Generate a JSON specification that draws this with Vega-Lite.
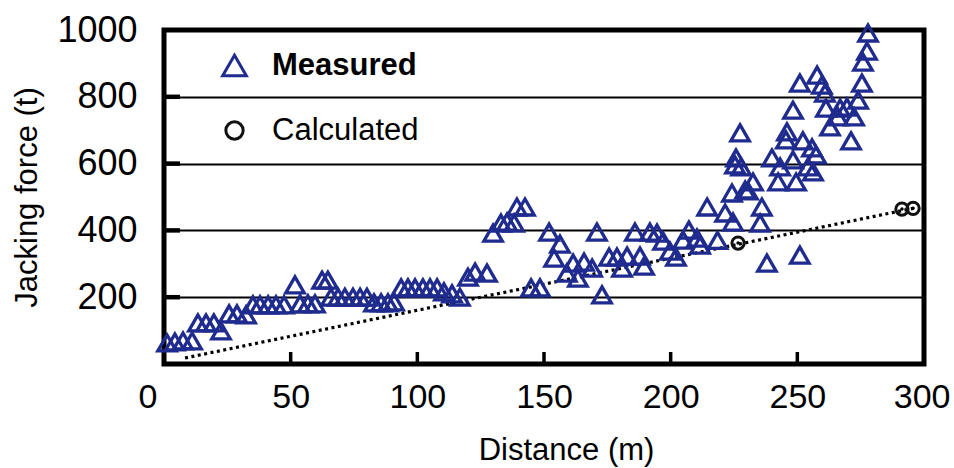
{
  "$schema": "https://vega.github.io/schema/vega-lite/v6.json",
  "width": 760,
  "height": 334,
  "autosize": {"type": "none"},
  "padding": {"left": 164, "top": 30, "right": 30, "bottom": 104},
  "background": "white",
  "config": {
    "view": {"stroke": "black", "strokeWidth": 5},
    "font": "Liberation Sans"
  },
  "datasets": {
    "measured": [
      {"d": 1.2, "f": 63, "s": "Measured"}, {"d": 4.3, "f": 66, "s": "Measured"}, {"d": 7.5, "f": 69, "s": "Measured"}, {"d": 11.1, "f": 69, "s": "Measured"},
      {"d": 13.4, "f": 123, "s": "Measured"}, {"d": 16.6, "f": 123, "s": "Measured"}, {"d": 19.7, "f": 123, "s": "Measured"}, {"d": 22.5, "f": 99, "s": "Measured"},
      {"d": 25.7, "f": 150, "s": "Measured"}, {"d": 28.8, "f": 150, "s": "Measured"}, {"d": 32.4, "f": 147, "s": "Measured"},
      {"d": 35.1, "f": 177, "s": "Measured"}, {"d": 37.9, "f": 177, "s": "Measured"}, {"d": 41.1, "f": 177, "s": "Measured"}, {"d": 44.2, "f": 177, "s": "Measured"}, {"d": 47.4, "f": 177, "s": "Measured"},
      {"d": 51.7, "f": 237, "s": "Measured"}, {"d": 53.7, "f": 180, "s": "Measured"}, {"d": 56.8, "f": 180, "s": "Measured"}, {"d": 59.6, "f": 180, "s": "Measured"},
      {"d": 62.4, "f": 251, "s": "Measured"}, {"d": 64.7, "f": 251, "s": "Measured"},
      {"d": 65.9, "f": 200, "s": "Measured"}, {"d": 68.7, "f": 200, "s": "Measured"}, {"d": 71.4, "f": 200, "s": "Measured"}, {"d": 74.6, "f": 200, "s": "Measured"}, {"d": 77.4, "f": 200, "s": "Measured"}, {"d": 80.1, "f": 200, "s": "Measured"},
      {"d": 82.9, "f": 183, "s": "Measured"}, {"d": 85.7, "f": 183, "s": "Measured"}, {"d": 88.4, "f": 183, "s": "Measured"}, {"d": 90.8, "f": 186, "s": "Measured"},
      {"d": 93.6, "f": 228, "s": "Measured"}, {"d": 96.3, "f": 228, "s": "Measured"}, {"d": 99.1, "f": 228, "s": "Measured"}, {"d": 102.2, "f": 228, "s": "Measured"}, {"d": 105.0, "f": 228, "s": "Measured"}, {"d": 107.8, "f": 228, "s": "Measured"},
      {"d": 110.5, "f": 216, "s": "Measured"}, {"d": 113.7, "f": 210, "s": "Measured"}, {"d": 116.8, "f": 200, "s": "Measured"},
      {"d": 120.0, "f": 260, "s": "Measured"}, {"d": 122.8, "f": 275, "s": "Measured"}, {"d": 127.5, "f": 272, "s": "Measured"},
      {"d": 129.9, "f": 392, "s": "Measured"}, {"d": 133.0, "f": 422, "s": "Measured"}, {"d": 135.4, "f": 425, "s": "Measured"}, {"d": 138.2, "f": 422, "s": "Measured"},
      {"d": 139.3, "f": 470, "s": "Measured"}, {"d": 142.5, "f": 470, "s": "Measured"},
      {"d": 144.9, "f": 228, "s": "Measured"}, {"d": 148.4, "f": 228, "s": "Measured"},
      {"d": 152.0, "f": 395, "s": "Measured"}, {"d": 156.3, "f": 359, "s": "Measured"}, {"d": 154.0, "f": 317, "s": "Measured"},
      {"d": 159.0, "f": 272, "s": "Measured"}, {"d": 161.5, "f": 302, "s": "Measured"}, {"d": 165.8, "f": 305, "s": "Measured"}, {"d": 169.0, "f": 287, "s": "Measured"}, {"d": 163.4, "f": 257, "s": "Measured"},
      {"d": 172.9, "f": 207, "s": "Measured"}, {"d": 170.9, "f": 395, "s": "Measured"},
      {"d": 175.7, "f": 320, "s": "Measured"}, {"d": 178.8, "f": 320, "s": "Measured"}, {"d": 182.8, "f": 323, "s": "Measured"}, {"d": 187.9, "f": 323, "s": "Measured"},
      {"d": 180.8, "f": 287, "s": "Measured"}, {"d": 189.5, "f": 293, "s": "Measured"},
      {"d": 185.9, "f": 395, "s": "Measured"}, {"d": 191.8, "f": 395, "s": "Measured"}, {"d": 194.6, "f": 392, "s": "Measured"},
      {"d": 197.0, "f": 368, "s": "Measured"}, {"d": 199.7, "f": 338, "s": "Measured"}, {"d": 202.1, "f": 320, "s": "Measured"},
      {"d": 204.9, "f": 371, "s": "Measured"}, {"d": 207.2, "f": 401, "s": "Measured"}, {"d": 210.4, "f": 377, "s": "Measured"}, {"d": 211.6, "f": 356, "s": "Measured"},
      {"d": 214.4, "f": 470, "s": "Measured"}, {"d": 218.5, "f": 370, "s": "Measured"},
      {"d": 221.5, "f": 452, "s": "Measured"}, {"d": 224.6, "f": 425, "s": "Measured"}, {"d": 224.2, "f": 512, "s": "Measured"},
      {"d": 227.4, "f": 692, "s": "Measured"}, {"d": 225.8, "f": 617, "s": "Measured"}, {"d": 225.4, "f": 596, "s": "Measured"}, {"d": 227.8, "f": 590, "s": "Measured"},
      {"d": 232.5, "f": 545, "s": "Measured"}, {"d": 229.4, "f": 521, "s": "Measured"}, {"d": 230.5, "f": 518, "s": "Measured"},
      {"d": 236.0, "f": 470, "s": "Measured"}, {"d": 235.3, "f": 422, "s": "Measured"}, {"d": 238.0, "f": 302, "s": "Measured"},
      {"d": 240.0, "f": 617, "s": "Measured"}, {"d": 243.2, "f": 590, "s": "Measured"}, {"d": 248.3, "f": 611, "s": "Measured"},
      {"d": 242.4, "f": 545, "s": "Measured"}, {"d": 249.5, "f": 545, "s": "Measured"},
      {"d": 245.9, "f": 695, "s": "Measured"}, {"d": 245.5, "f": 671, "s": "Measured"}, {"d": 248.3, "f": 760, "s": "Measured"},
      {"d": 251.0, "f": 841, "s": "Measured"}, {"d": 251.0, "f": 326, "s": "Measured"},
      {"d": 252.2, "f": 668, "s": "Measured"}, {"d": 255.8, "f": 647, "s": "Measured"}, {"d": 257.4, "f": 626, "s": "Measured"},
      {"d": 254.2, "f": 590, "s": "Measured"}, {"d": 256.2, "f": 575, "s": "Measured"},
      {"d": 257.8, "f": 865, "s": "Measured"}, {"d": 259.7, "f": 835, "s": "Measured"}, {"d": 260.9, "f": 811, "s": "Measured"},
      {"d": 261.3, "f": 766, "s": "Measured"}, {"d": 266.9, "f": 766, "s": "Measured"}, {"d": 269.6, "f": 769, "s": "Measured"},
      {"d": 266.0, "f": 740, "s": "Measured"}, {"d": 272.4, "f": 740, "s": "Measured"}, {"d": 262.9, "f": 710, "s": "Measured"}, {"d": 271.2, "f": 668, "s": "Measured"},
      {"d": 274.0, "f": 790, "s": "Measured"}, {"d": 275.5, "f": 841, "s": "Measured"}, {"d": 275.9, "f": 904, "s": "Measured"}, {"d": 277.5, "f": 937, "s": "Measured"}, {"d": 277.9, "f": 991, "s": "Measured"}
    ],
    "calculated": [
      {"d": 226.6, "f": 362, "s": "Calculated"},
      {"d": 291.3, "f": 464, "s": "Calculated"},
      {"d": 295.7, "f": 466, "s": "Calculated"}
    ],
    "calcLine": [
      {"d": 8.3, "f": 18},
      {"d": 295.7, "f": 466}
    ],
    "xticks": [{"d": 50}, {"d": 100}, {"d": 150}, {"d": 200}, {"d": 250}],
    "yticks": [{"f": 200}, {"f": 400}, {"f": 600}, {"f": 800}]
  },
  "layer": [
    {
      "data": {"name": "calcLine"},
      "mark": {"type": "line", "color": "black", "strokeWidth": 3.2, "strokeDash": [3, 3.5], "strokeCap": "butt"},
      "encoding": {
        "x": {
          "field": "d", "type": "quantitative",
          "scale": {"domain": [0, 300], "nice": false, "zero": false},
          "axis": {
            "title": "Distance (m)",
            "values": [0, 50, 100, 150, 200, 250, 300],
            "grid": false, "domain": false, "ticks": false,
            "labelFontSize": 34, "labelColor": "black", "labelPadding": 16, "labelFont": "Liberation Sans",
            "labelFlush": true, "labelFlushOffset": 26,
            "titleFontSize": 31, "titleColor": "black", "titleFontWeight": "normal", "titleFont": "Liberation Sans",
            "titleX": 402, "titleY": 86, "titleBaseline": "middle"
          }
        },
        "y": {
          "field": "f", "type": "quantitative",
          "scale": {"domain": [0, 1000], "nice": false},
          "axis": {
            "title": "Jacking force (t)",
            "values": [200, 400, 600, 800, 1000],
            "format": "d",
            "grid": true, "gridColor": "black", "gridWidth": 1.8, "gridOpacity": 1,
            "domain": false, "ticks": false,
            "labelFontSize": 36, "labelColor": "black", "labelPadding": 27, "labelFont": "Liberation Sans",
            "titleFontSize": 31, "titleColor": "black", "titleFontWeight": "normal", "titleFont": "Liberation Sans",
            "titleX": -137, "titleY": 167, "titleBaseline": "middle"
          }
        }
      }
    },
    {
      "data": {"name": "xticks"},
      "mark": {"type": "rule", "color": "black", "strokeWidth": 3.5, "opacity": 1},
      "encoding": {
        "x": {"field": "d", "type": "quantitative"},
        "y": {"datum": 0, "type": "quantitative"},
        "y2": {"datum": 36}
      }
    },
    {
      "data": {"name": "yticks"},
      "mark": {"type": "rule", "color": "black", "strokeWidth": 4.5, "opacity": 1},
      "encoding": {
        "y": {"field": "f", "type": "quantitative"},
        "x": {"datum": 0, "type": "quantitative"},
        "x2": {"datum": 6.3}
      }
    },
    {
      "data": {"name": "measured"},
      "mark": {"type": "point", "filled": false, "strokeWidth": 3.3, "size": 340, "opacity": 1},
      "encoding": {
        "x": {"field": "d", "type": "quantitative"},
        "y": {"field": "f", "type": "quantitative"},
        "shape": {"field": "s", "type": "nominal",
          "scale": {"domain": ["Measured", "Calculated"], "range": ["triangle-up", "circle"]},
          "legend": {"orient": "none", "legendX": 55, "legendY": 20, "title": null,
            "labelFontSize": 31, "labelFont": "Liberation Sans", "labelColor": "black", "labelOffset": 22,
            "rowPadding": 32, "symbolStrokeWidth": 3,
            "labelFontWeight": {"expr": "datum.value === 'Measured' ? 'bold' : 'normal'"},
            "symbolSize": {"expr": "datum.value === 'Measured' ? 560 : 300"}}},
        "color": {"field": "s", "type": "nominal",
          "scale": {"domain": ["Measured", "Calculated"], "range": ["#1f2b8e", "#111111"]},
          "legend": {"orient": "none", "legendX": 55, "legendY": 20, "title": null,
            "labelFontSize": 31, "labelFont": "Liberation Sans", "labelColor": "black", "labelOffset": 22,
            "rowPadding": 32, "symbolStrokeWidth": 3,
            "labelFontWeight": {"expr": "datum.value === 'Measured' ? 'bold' : 'normal'"},
            "symbolSize": {"expr": "datum.value === 'Measured' ? 560 : 300"}}}
      }
    },
    {
      "data": {"name": "calculated"},
      "mark": {"type": "point", "filled": false, "strokeWidth": 3, "size": 150, "opacity": 1},
      "encoding": {
        "x": {"field": "d", "type": "quantitative"},
        "y": {"field": "f", "type": "quantitative"},
        "shape": {"field": "s", "type": "nominal"},
        "color": {"field": "s", "type": "nominal"}
      }
    },
    {
      "data": {"name": "calculated"},
      "mark": {"type": "point", "filled": true, "size": 12, "color": "black", "opacity": 1},
      "encoding": {
        "x": {"field": "d", "type": "quantitative"},
        "y": {"field": "f", "type": "quantitative"}
      }
    }
  ]
}
